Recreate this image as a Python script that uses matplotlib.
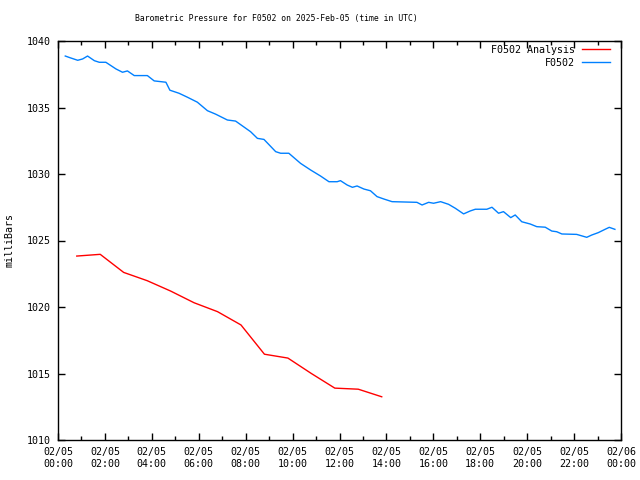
import matplotlib
matplotlib.use("Agg")
import matplotlib.pyplot as plt
import matplotlib.dates as mdates
import pandas as pd
import numpy as np

title = "Barometric Pressure for F0502 on 2025-Feb-05 (time in UTC)"
ylabel = "milliBars"
start = pd.Timestamp("2025-02-05 00:00")

# Observations (hours after 00:00 UTC, pressure mb)
obs_hours = [0.31, 0.5, 0.84, 1.05, 1.26, 1.55, 1.76, 2.04, 2.47, 2.75, 2.96, 3.25, 3.81,
             4.1, 4.6, 4.77, 5.16, 5.52, 5.94, 6.37, 6.72, 7.22, 7.57, 8.21, 8.5, 8.78,
             9.28, 9.49, 9.84, 10.34, 10.77, 11.19, 11.55, 11.9, 12.04, 12.33, 12.55,
             12.75, 13.04, 13.32, 13.6, 13.89, 14.24, 15.3, 15.52, 15.8, 16.01, 16.31,
             16.65, 16.94, 17.29, 17.57, 17.79, 18.28, 18.5, 18.78, 18.99, 19.3, 19.49,
             19.77, 20.13, 20.41, 20.77, 21.05, 21.26, 21.48, 22.11, 22.54, 22.75,
             23.03, 23.32, 23.5, 23.74]
obs_p = [1038.87, 1038.75, 1038.55, 1038.65, 1038.87, 1038.52, 1038.4, 1038.4, 1037.9,
         1037.65, 1037.75, 1037.4, 1037.4, 1037.0, 1036.9, 1036.3, 1036.07, 1035.77,
         1035.4, 1034.76, 1034.5, 1034.06, 1033.98, 1033.18, 1032.68, 1032.6, 1031.68,
         1031.56, 1031.56, 1030.8, 1030.3, 1029.85, 1029.42, 1029.42, 1029.5, 1029.17,
         1029.0, 1029.1, 1028.87, 1028.74, 1028.3, 1028.12, 1027.92, 1027.87, 1027.67,
         1027.87, 1027.8, 1027.92, 1027.72, 1027.42, 1027.0, 1027.22, 1027.35, 1027.35,
         1027.5, 1027.05, 1027.17, 1026.72, 1026.92, 1026.41, 1026.24, 1026.04, 1026.0,
         1025.71, 1025.66, 1025.49, 1025.46, 1025.24, 1025.41, 1025.59, 1025.84,
         1025.99, 1025.84]

# Analysis (hourly)
ana_hours = [0.8, 1.8, 2.8, 3.8, 4.8, 5.8, 6.8, 7.8, 8.8, 9.8, 10.8, 11.8, 12.8, 13.8]
ana_p = [1023.83, 1023.96, 1022.6, 1021.98, 1021.2, 1020.32, 1019.65, 1018.65,
         1016.45, 1016.16, 1015.0, 1013.9, 1013.82, 1013.25]

obs_t = [start + pd.Timedelta(hours=h) for h in obs_hours]
ana_t = [start + pd.Timedelta(hours=h) for h in ana_hours]

plt.rcParams['font.family'] = ['DejaVu Sans Mono']
fig = plt.figure(figsize=(6.4, 4.8), dpi=100)
ax = fig.add_axes([58/640, 40/480, (621-58)/640, (440-41)/480])

ax.plot(ana_t, ana_p, color='#ff0000', lw=1.0, label='F0502 Analysis')
ax.plot(obs_t, obs_p, color='#0080ff', lw=1.0, label='F0502')

ax.set_xlim(start, start + pd.Timedelta(hours=24))
ax.set_ylim(1010, 1040)
ax.set_yticks(np.arange(1010, 1041, 5))
ax.xaxis.set_major_locator(mdates.HourLocator(byhour=range(0, 24, 2)))
ax.xaxis.set_minor_locator(mdates.HourLocator())
ax.xaxis.set_major_formatter(mdates.DateFormatter('%m/%d\n%H:%M'))

ax.tick_params(axis='both', which='major', direction='in', length=5, width=1,
               top=True, right=True, labelsize=7.2, pad=5)
ax.tick_params(axis='x', which='minor', direction='in', length=3, width=1,
               top=True, bottom=True)
for s in ax.spines.values():
    s.set_linewidth(1)

fig.text(10/640, 1 - 240/480, ylabel, rotation=90, ha='center', va='center', fontsize=7.2)
fig.text(276/640, 1 - 19/480, title, ha='center', va='center', fontsize=5.9)

leg = ax.legend(loc='upper right', bbox_to_anchor=(1 - 7/563, 1.0), frameon=False,
                markerfirst=False, fontsize=7.2, handlelength=2.8, handletextpad=0.7,
                borderaxespad=0.0, labelspacing=0.3)
for t in leg.get_texts():
    t.set_ha('right')

fig.savefig('out.png', dpi=100)
